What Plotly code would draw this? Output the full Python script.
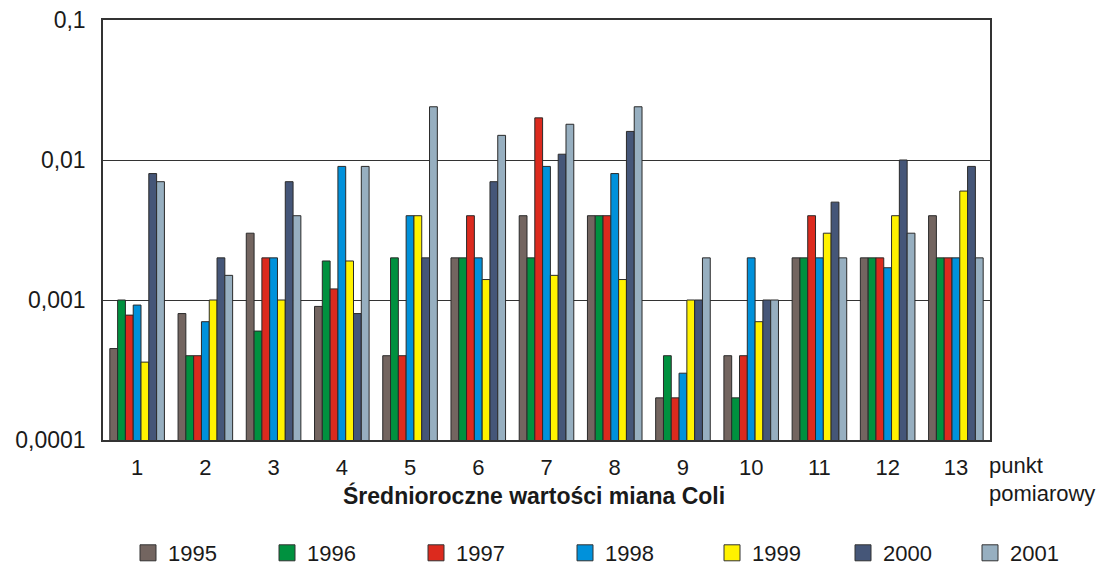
import plotly.graph_objects as go

categories = ["1", "2", "3", "4", "5", "6", "7", "8", "9", "10", "11", "12", "13"]
years = ["1995", "1996", "1997", "1998", "1999", "2000", "2001"]

v1995 = [0.00045, 0.0008, 0.003, 0.0009, 0.0004, 0.002, 0.004, 0.004, 0.0002, 0.0004, 0.002, 0.002, 0.004]
v1996 = [0.001, 0.0004, 0.0006, 0.0019, 0.002, 0.002, 0.002, 0.004, 0.0004, 0.0002, 0.002, 0.002, 0.002]
v1997 = [0.00078, 0.0004, 0.002, 0.0012, 0.0004, 0.004, 0.02, 0.004, 0.0002, 0.0004, 0.004, 0.002, 0.002]
v1998 = [0.00092, 0.0007, 0.002, 0.009, 0.004, 0.002, 0.009, 0.008, 0.0003, 0.002, 0.002, 0.0017, 0.002]
v1999 = [0.00036, 0.001, 0.001, 0.0019, 0.004, 0.0014, 0.0015, 0.0014, 0.001, 0.0007, 0.003, 0.004, 0.006]
v2000 = [0.008, 0.002, 0.007, 0.0008, 0.002, 0.007, 0.011, 0.016, 0.001, 0.001, 0.005, 0.01, 0.009]
v2001 = [0.007, 0.0015, 0.004, 0.009, 0.024, 0.015, 0.018, 0.024, 0.002, 0.001, 0.002, 0.003, 0.002]

series = [v1995, v1996, v1997, v1998, v1999, v2000, v2001]
colors = ["#736560", "#00913F", "#DC2A1E", "#0091DB", "#FFF200", "#455678", "#97AFC0"]

y_tickvals = [0.0001, 0.001, 0.01, 0.1]
y_ticktext = ["0,0001", "0,001", "0,01", "0,1"]

FONT = "Liberation Sans, Arial, sans-serif"

W, H = 1115, 569
L, R, T, B = 103, 125, 20, 129
pw = W - L - R
ph = H - T - B


def py(pix):
    return (H - B - pix) / ph


def px(pix):
    return (pix - L) / pw


legend_left = [128, 267, 416, 565, 712, 843, 970]

fig = go.Figure()
for i, (name, vals, col) in enumerate(zip(years, series, colors)):
    lg = "legend" if i == 0 else f"legend{i + 1}"
    fig.add_trace(go.Bar(
        x=categories, y=vals, name=name, showlegend=False, legendgroup=name,
        marker=dict(color=col, line=dict(color="#2a2a2a", width=1)),
    ))
    fig.add_trace(go.Scatter(
        x=[None], y=[None], mode="markers", name=name, legendgroup=name,
        legend=lg, showlegend=True,
        marker=dict(symbol="square", size=16, color=col,
                    line=dict(color="#333333", width=1)),
    ))

legends = {}
for i, xl in enumerate(legend_left):
    key = "legend" if i == 0 else f"legend{i + 1}"
    legends[key] = dict(
        orientation="h", x=px(xl), xanchor="left",
        y=py(553), yanchor="middle", itemsizing="trace",
        font=dict(family=FONT, size=22, color="#1a1a1a"),
        bgcolor="rgba(0,0,0,0)",
    )

fig.update_layout(
    width=W, height=H,
    margin=dict(l=L, r=R, t=T, b=B, autoexpand=False),
    paper_bgcolor="white", plot_bgcolor="white",
    barmode="group", bargap=0.2, bargroupgap=0.0,
    font=dict(family=FONT, size=22, color="#1a1a1a"),
    showlegend=True,
    xaxis=dict(
        showline=True, linecolor="#333333", linewidth=1.5, mirror=True,
        ticks="", tickfont=dict(size=22), showgrid=False, automargin=False,
        ticklabelstandoff=7,
    ),
    yaxis=dict(
        type="log", range=[-4, -1],
        tickvals=y_tickvals, ticktext=y_ticktext,
        showline=True, linecolor="#333333", linewidth=1.5, mirror=True,
        showgrid=True, gridcolor="#333333", gridwidth=1.2,
        ticks="", tickfont=dict(size=23), ticklabelstandoff=11, automargin=False,
    ),
    annotations=[
        dict(text="<b>Średnioroczne wartości miana Coli</b>", xref="paper", yref="paper",
             x=px(534), y=py(495), xanchor="center", yanchor="middle",
             showarrow=False, font=dict(size=23, family=FONT)),
        dict(text="punkt", xref="paper", yref="paper",
             x=px(987), y=py(465), xanchor="left", yanchor="middle",
             showarrow=False, font=dict(size=22, family=FONT)),
        dict(text="pomiarowy", xref="paper", yref="paper",
             x=px(987), y=py(493), xanchor="left", yanchor="middle",
             showarrow=False, font=dict(size=22, family=FONT)),
    ],
    **legends,
)

fig.write_html(
    "out.html",
    config={"displayModeBar": False},
    post_script="document.body.style.margin='0';document.body.style.padding='0';",
)
